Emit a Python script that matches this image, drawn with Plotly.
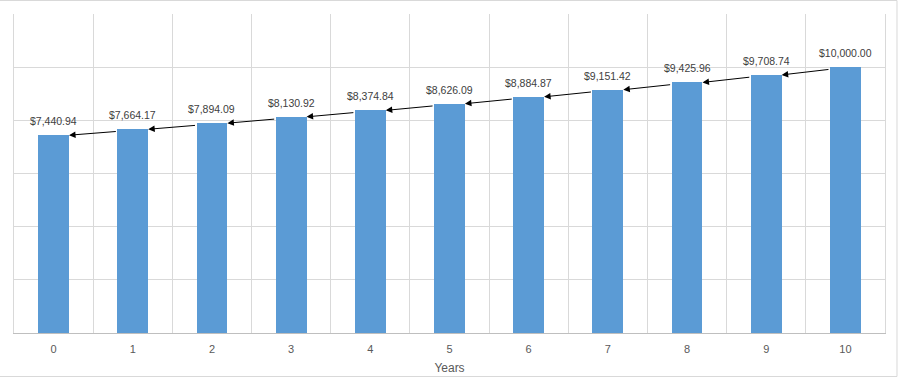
import plotly.graph_objects as go

years = [0, 1, 2, 3, 4, 5, 6, 7, 8, 9, 10]
values = [7440.94, 7664.17, 7894.09, 8130.92, 8374.84, 8626.09,
          8884.87, 9151.42, 9425.96, 9708.74, 10000.00]
labels = ["$7,440.94", "$7,664.17", "$7,894.09", "$8,130.92", "$8,374.84",
          "$8,626.09", "$8,884.87", "$9,151.42", "$9,425.96", "$9,708.74",
          "$10,000.00"]

W, H = 900, 378
ML, MR, MT, MB = 13.5, 14.5, 14, 45
BAR_W = 0.39
TXT = "#595959"
FONT = "Liberation Sans, Arial, sans-serif"

fig = go.Figure()
fig.add_trace(go.Bar(
    x=years, y=values, width=BAR_W,
    marker=dict(color="#5b9bd5", line=dict(width=0)),
    hoverinfo="skip",
))

annotations = []
for i in range(len(years)):
    annotations.append(dict(
        x=years[i], y=values[i], xref="x", yref="y",
        text=labels[i], showarrow=False, yanchor="bottom", yshift=6,
        font=dict(color="#404040", size=10.5, family=FONT),
    ))
for i in range(len(years) - 1):
    annotations.append(dict(
        x=years[i] + BAR_W / 2, y=values[i],
        ax=years[i + 1] - BAR_W / 2, ay=values[i + 1] - 80,
        xref="x", yref="y", axref="x", ayref="y",
        text="", showarrow=True, arrowhead=2, arrowsize=1.3,
        arrowwidth=1, arrowcolor="#000000", standoff=0, startstandoff=0,
    ))

pw = W - ML - MR
ph = H - MT - MB
fig.update_layout(
    width=W, height=H,
    margin=dict(l=ML, r=MR, t=MT, b=MB, pad=0, autoexpand=False),
    paper_bgcolor="white", plot_bgcolor="white",
    showlegend=False,
    bargap=0,
    font=dict(family=FONT, color=TXT, size=11),
    annotations=annotations,
    xaxis=dict(
        range=[-0.5, 10.5], tickmode="array", tickvals=years,
        ticktext=[str(y) for y in years],
        showgrid=False, zeroline=False, automargin=False,
        showline=True, linecolor="#bfbfbf", linewidth=1,
        ticks="", ticklabelstandoff=6,
        tickfont=dict(color=TXT, size=11, family=FONT),
        minor=dict(tickmode="linear", tick0=-0.5, dtick=1, showgrid=True,
                   gridcolor="#d9d9d9", gridwidth=1, ticks=""),
        title=dict(text="Years", font=dict(color=TXT, size=12, family=FONT),
                   standoff=9),
        fixedrange=True,
    ),
    yaxis=dict(
        range=[0, 12000], tickmode="linear", tick0=0, dtick=2000,
        showticklabels=False, showgrid=True, gridcolor="#d9d9d9", gridwidth=1,
        zeroline=False, showline=True, linecolor="#d9d9d9", linewidth=1,
        mirror=True, ticks="", fixedrange=True, automargin=False,
    ),
    shapes=[dict(
        type="rect", xref="paper", yref="paper",
        x0=(-2 - ML) / pw, x1=(897.5 - ML) / pw,
        y0=(H - 376.5 - MB) / ph,
        y1=(H - 0.5 - MB) / ph,
        line=dict(color="#d9d9d9", width=1), fillcolor="rgba(0,0,0,0)",
        layer="below",
    )],
)

fig.write_html(
    "out.html",
    config={"displayModeBar": False},
    post_script="document.body.style.margin='0';document.body.style.overflow='hidden';",
)
